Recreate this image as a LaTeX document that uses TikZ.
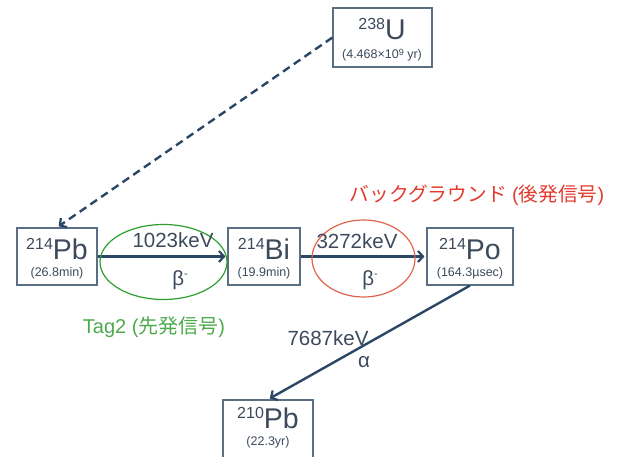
\documentclass[tikz,border=0pt]{standalone}
\usepackage{fontspec}
\setmainfont{Liberation Sans}
\newfontfamily\cjk{Noto Sans CJK JP}
\usetikzlibrary{arrows.meta}
\definecolor{boxc}{HTML}{5A6E86}
\definecolor{arrc}{HTML}{2B4766}
\definecolor{txtc}{HTML}{3C4A5C}
\definecolor{grn}{HTML}{2E9E2E}
\definecolor{grntxt}{HTML}{4DAA4D}
\definecolor{redc}{HTML}{E0644A}
\definecolor{redtxt}{HTML}{E23A2E}
\newcommand{\iso}[2]{{\fontsize{16}{16}\selectfont\raisebox{9.5pt}{#1}}#2}
\begin{document}
\begin{tikzpicture}[x=1pt,y=-1pt,
 nuc/.style={draw=boxc, line width=1.1pt, rectangle, inner sep=0pt, minimum height=57pt},
 arr/.style={draw=arrc, line width=2.4pt, shorten >=2pt, -{Straight Barb[length=5pt,width=11pt,line width=2.2pt]}},
 big/.style={font=\fontsize{28.5}{28.5}\selectfont, text=txtc, inner sep=0pt},
 small/.style={font=\fontsize{12.5}{12.5}\selectfont, text=txtc, inner sep=0pt},
 lbl/.style={font=\fontsize{20.5}{20.5}\selectfont, text=txtc, inner sep=0pt}]
\useasboundingbox (0,0) rectangle (618,457);
\clip (0,0) rectangle (618,457);
% boxes
\node[nuc, minimum width=99pt, minimum height=59pt] (u) at (382.5,37.5) {};
\node[nuc, minimum width=80pt] (pb) at (57,256.5) {};
\node[nuc, minimum width=72pt] (bi) at (264,256.5) {};
\node[nuc, minimum width=86pt] (po) at (470,256.5) {};
\node[nuc, minimum width=90pt, minimum height=64pt] (pbb) at (268,432) {};
% box texts
\node[big] (ut) at (382,29) {\iso{238}{U}};
\node[small] (us) at (382,55) {(4.468×10\raisebox{3.5pt}{\fontsize{9}{9}\selectfont 9} yr)};
\node[big] (pbt) at (57,249) {\iso{214}{Pb}};
\node[small] (pbs) at (57,273) {(26.8min)};
\node[big] (bit) at (264,249) {\iso{214}{Bi}};
\node[small] (bis) at (264,273) {(19.9min)};
\node[big] (pot) at (470,249) {\iso{214}{Po}};
\node[small] (pos) at (470,273) {(164.3µsec)};
\node[big] (pbbt) at (268,418) {\iso{210}{Pb}};
\node[small] (pbbs) at (268,442.5) {(22.3yr)};
% connectors
\draw[arr, dash pattern=on 8pt off 5pt] (u.west) -- (pb.north);
\draw[arr] (pb.east) -- (bi.west);
\draw[arr] (bi.east) -- (po.west);
\draw[arr] (po.south) -- (pbb.north);
% ellipses
\draw[grn, line width=1.2pt] (163.5,262) ellipse [x radius=63.5, y radius=37.5];
\draw[redc, line width=1.2pt] (363.5,258.5) ellipse [x radius=51.5, y radius=38.5];
% labels
\node[lbl] (e1) at (173,240.5) {1023keV};
\node[lbl] (b1) at (180,280) {β\raisebox{8pt}{\fontsize{11}{11}\selectfont -}};
\node[lbl] (e2) at (357,241.5) {3272keV};
\node[lbl] (b2) at (370,280) {β\raisebox{8pt}{\fontsize{11}{11}\selectfont -}};
\node[lbl] (e3) at (328,338.5) {7687keV};
\node[lbl] (a3) at (364,362) {α};
\node[font=\fontsize{19.7}{19.7}\selectfont, text=redtxt, inner sep=0pt] (bg) at (477,195) {{\cjk バックグラウンド} ({\cjk 後発信号})};
\node[font=\fontsize{20}{20}\selectfont, text=grntxt, inner sep=0pt] (tag) at (154,327.5) {Tag2 ({\cjk 先発信号})};
\end{tikzpicture}
\end{document}
